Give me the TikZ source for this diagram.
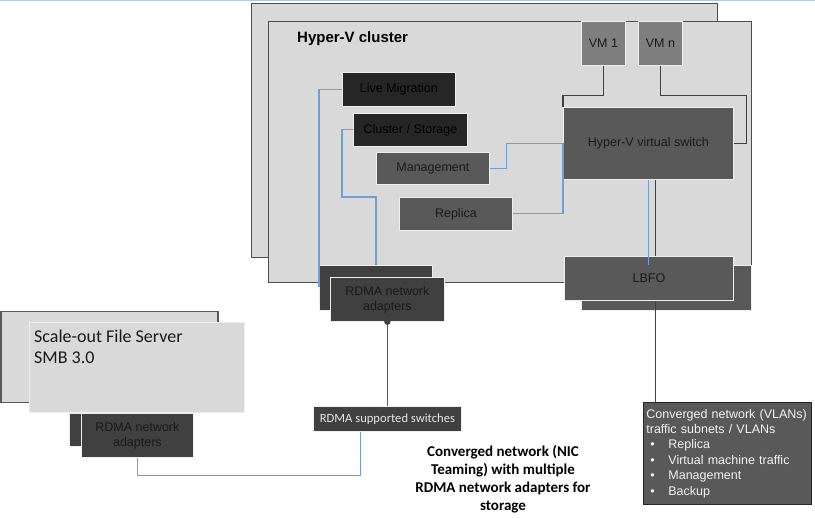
\documentclass[tikz,border=0pt]{standalone}
\usepackage{fontspec}
\setmainfont{Liberation Sans}
\newfontfamily\calibri{Carlito}
\usetikzlibrary{calc}
\definecolor{c26}{HTML}{262626}
\definecolor{c40}{HTML}{404040}
\definecolor{c4d}{HTML}{4D4D4D}
\definecolor{c59}{HTML}{595959}
\definecolor{c7f}{HTML}{7F7F7F}
\definecolor{cd9}{HTML}{D9D9D9}
\definecolor{c1a}{HTML}{1A1A1A}
\definecolor{cf2}{HTML}{F2F2F2}
\definecolor{ce6}{HTML}{E6E6E6}
\definecolor{boxedge}{HTML}{EEEEEE}
\definecolor{lblue}{HTML}{6F9FDA}
\definecolor{topblue}{HTML}{B4C7E7}
\newcommand\cbul{\hspace*{4pt}\makebox[18pt][l]{\textbullet}}
\tikzset{
  box/.style={draw=boxedge, line width=0.8pt, inner sep=0pt, anchor=north west,
    font=\fontsize{12.5}{15}\selectfont, align=center},
  blk/.style={box, fill=c26, text=black},
  mid/.style={box, fill=c59, text=c1a},
  rdma/.style={box, fill=c40, text=c1a},
  vmbox/.style={box, fill=c7f, text=c1a},
  cluster/.style={draw=c4d, line width=1.2pt, fill=cd9, anchor=north west, inner sep=0pt},
  blueline/.style={draw=lblue, line width=1.2pt},
  darkline/.style={draw=c40, line width=1.2pt},
  rdmaline/.style={draw=c59, line width=1.5pt},
}
\begin{document}
\begin{tikzpicture}[x=1pt,y=-1pt]
\useasboundingbox (0,0) rectangle (815,518);
\fill[topblue] (0,0) rectangle (815,1.5);
% Hyper-V cluster
\node[cluster, minimum width=466, minimum height=254] (clB) at (251,3) {};
\node[cluster, minimum width=483, minimum height=261] (clF) at (268,21) {};
\node[anchor=base west, inner sep=0pt, font=\bfseries\fontsize{15}{18}\selectfont] (title) at (297,43) {Hyper-V cluster};
% traffic boxes
\node[blk, minimum width=113, minimum height=34] (lm) at (342,72) {Live Migration};
\node[blk, minimum width=114, minimum height=33] (cs) at (353,113) {Cluster / Storage};
\node[mid, minimum width=113, minimum height=32] (mg) at (376,152) {Management};
\node[mid, minimum width=113, minimum height=33] (rp) at (399,197) {Replica};
% VMs and switch
\node[vmbox, minimum width=44, minimum height=44] (vm1) at (581,21) {VM 1};
\node[vmbox, minimum width=44, minimum height=44] (vmn) at (638,21) {VM n};
\node[mid, minimum width=170, minimum height=72] (sw) at (563,107) {Hyper-V virtual switch};
% LBFO
\node[mid, minimum width=170, minimum height=45] (lbfoB) at (581,265) {};
\node[mid, minimum width=169, minimum height=44] (lbfo) at (564,256) {LBFO};
% RDMA adapters of the cluster
\node[rdma, minimum width=113, minimum height=45] (rdmaB) at (319,265) {};
\node[rdma, minimum width=114, minimum height=44] (rdmaF) at (330,277) {RDMA network\\adapters};
% RDMA switches
\node[rdma, minimum width=148, minimum height=25, text=ce6, font=\calibri\fontsize{12.6}{15}\selectfont] (rsw) at (313,406) {RDMA supported switches};
% Scale-out file server
\node[cluster, draw=c59, line width=1.5pt, minimum width=217, minimum height=91] (sofsB) at (0,311) {};
\node[cluster, draw=boxedge, line width=0.8pt, minimum width=215, minimum height=90] (sofsF) at (29,322) {};
\node[anchor=north west, inner sep=0pt, align=left, text=c1a, font=\calibri\fontsize{18}{21}\selectfont] (sofstext) at (34,330) {Scale-out File Server\\SMB 3.0};
\node[rdma, minimum width=112, minimum height=33] (sofsRB) at (69,413) {};
\node[rdma, minimum width=112, minimum height=44] (sofsR) at (81,413) {RDMA network\\adapters};
% converged network box
\node[anchor=north west, draw=c26, line width=0.8pt, fill=c59, text=cf2, inner xsep=3pt, inner ysep=0pt,
  text width=162pt, minimum height=102, align=left, font=\fontsize{12.5}{15.4}\selectfont] (conv) at (643,402)
  {Converged network (VLANs)\\traffic subnets / VLANs\\\cbul Replica\\\cbul Virtual machine traffic\\\cbul Management\\\cbul Backup};
% caption
\node[align=center, inner sep=0pt, text=black, font=\calibri\bfseries\fontsize{15}{18}\selectfont] (caption) at (503,479)
  {Converged network (NIC\\Teaming) with multiple\\RDMA network adapters for\\storage};
% connectors
\coordinate (csdrop) at (376,197);
\draw[blueline] (lm.west) -| ($(rdmaB.north west)+(0,22)$);
\draw[blueline] (cs.west) -- ++(-11,0) |- (csdrop) -- (csdrop |- rdmaB.north);
\draw[blueline] (mg.east) -- ++(17,0) |- (sw.west);
\draw[blueline] (rp.east) -| (sw.west);
\draw[darkline] (vm1.south) -- ++(0,30) -| (sw.north west);
\draw[darkline] (vmn.south) -- ++(0,30) -- ++(86,0) |- (sw.east);
\draw[darkline] ($(sw.south)+(7,0)$) -- ($(sw.south |- lbfo.north)+(7,0)$);
\draw[blueline] (sw.south) -- ($(sw.south |- lbfo.north)+(0,9)$);
\draw[darkline] ($(sw.south |- lbfo.south)+(7,0)$) -- ($(sw.south |- conv.north)+(7,0)$);
\draw[rdmaline] (rdmaF.south) -- (rdmaF.south |- rsw.north);
\fill[c40] (rdmaF.south) circle (3.2);
\draw[blueline] (sofsR.south) -- ++(0,18) -| ($(rsw.south)+(-27,0)$);
\end{tikzpicture}
\end{document}
